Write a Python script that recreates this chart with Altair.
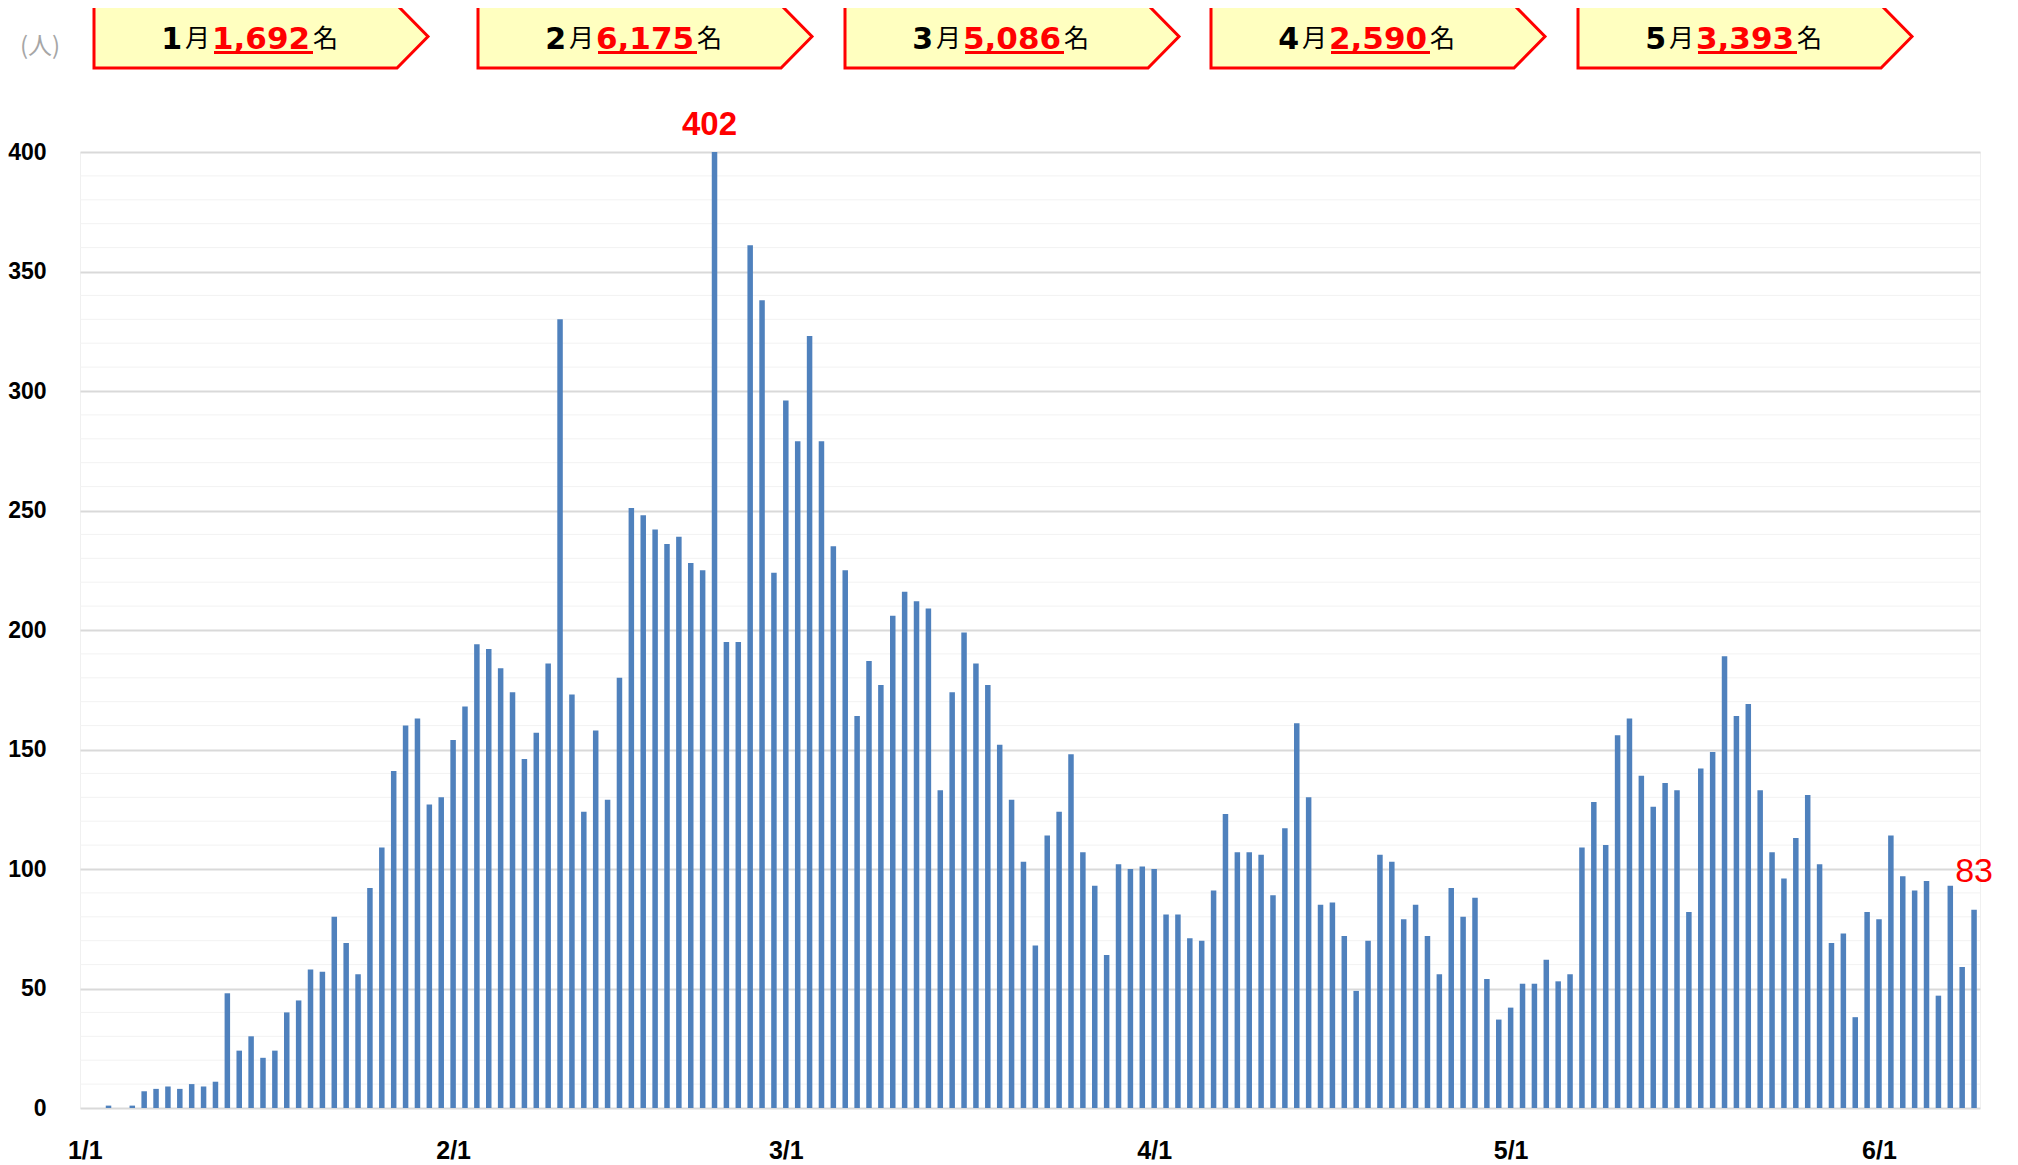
import altair as alt
import pandas as pd

# ---- data (daily new cases, 1/1 .. 6/8) ----
jan = [0, 1, 0, 1, 7, 8, 9, 8, 10, 9, 11, 48, 24, 30, 21, 24, 40, 45, 58, 57,
       80, 69, 56, 92, 109, 141, 160, 163, 127, 130, 154]
feb = [168, 194, 192, 184, 174, 146, 157, 186, 330, 173, 124, 158, 129, 180,
       251, 248, 242, 236, 239, 228, 225, 402, 195, 195, 361, 338, 224, 296]
mar = [279, 323, 279, 235, 225, 164, 187, 177, 206, 216, 212, 209, 133, 174,
       199, 186, 177, 152, 129, 103, 68, 114, 124, 148, 107, 93, 64, 102, 100,
       101, 100]
apr = [81, 81, 71, 70, 91, 123, 107, 107, 106, 89, 117, 161, 130, 85, 86, 72,
       49, 70, 106, 103, 79, 85, 72, 56, 92, 80, 88, 54, 37, 42]
may = [52, 52, 62, 53, 56, 109, 128, 110, 156, 163, 139, 126, 136, 133, 82,
       142, 149, 189, 164, 169, 133, 107, 96, 113, 131, 102, 69, 73, 38, 82, 79]
jun = [114, 97, 91, 95, 47, 93, 59, 83]

tick_index = [-1, 30, 58, 89, 119, 150]
tick_labels = ["1/1", "2/1", "3/1", "4/1", "5/1", "6/1"]

banner_months = ["1", "2", "3", "4", "5"]
banner_totals = ["1,692", "6,175", "5,086", "2,590", "3,393"]
unit_label = "(人)"

cases = jan + feb + mar + apr + may + jun
df = pd.DataFrame({"idx": list(range(len(cases))), "cases": cases})

# ---- layout constants ----
PLOT_W, PLOT_H = 1900, 956
PAD_L, PAD_T = 72, 144
ORG_X, ORG_Y = 8 + PAD_L, 8 + PAD_T   # page position of plot origin

def vx(page_x):
    return page_x - ORG_X

def vy(page_y):
    return page_y - ORG_Y

SANS = "Liberation Sans, Arial, sans-serif"
CJK = "Noto Sans CJK JP, Noto Sans CJK SC, sans-serif"

xs = alt.Scale(domain=[-1.4, 158.5], nice=False, zero=False, padding=0)
ys = alt.Scale(domain=[0, 400], nice=False, clamp=True)

label_expr = "[" + ",".join("'%s'" % t for t in tick_labels) + "][indexof([" + \
    ",".join(str(v) for v in tick_index) + "], datum.value)]"

x_axis = alt.Axis(values=tick_index, labelExpr=label_expr, grid=False, domain=False,
                  ticks=False, tickSize=0, labelPadding=30, labelFontSize=25,
                  labelFont=SANS, labelFontWeight="bold", labelColor="black",
                  labelBaseline="top", labelFlush=False, labelOverlap=False, title=None)
y_axis = alt.Axis(values=list(range(0, 401, 50)), grid=True, gridColor="#d9d9d9",
                  gridWidth=2, domain=False, ticks=False, tickSize=0, labelPadding=34,
                  labelFontSize=23, labelFont=SANS, labelFontWeight="bold",
                  labelColor="black", labelOverlap=False, labelFlush=False, title=None)

minor_vals = [v for v in range(10, 400, 10) if v % 50]
minor = alt.Chart(pd.DataFrame({"v": minor_vals})).mark_rule(
    color="#f2f2f2", strokeWidth=1).encode(y=alt.Y("v:Q", scale=ys, axis=y_axis))

bars = alt.Chart(df).mark_bar(width=5.5, color="#4F81BD").encode(
    x=alt.X("idx:Q", scale=xs, axis=x_axis),
    y=alt.Y("cases:Q", scale=ys, axis=y_axis),
)

peak = df.loc[[df["cases"].idxmax()]]
last = df.iloc[[len(df) - 1]]

peak_lbl = alt.Chart(peak).mark_text(
    dy=-17, dx=-5, baseline="alphabetic", align="center", fontSize=33, fontWeight="bold",
    font=SANS, color="#FF0000").encode(
    x=alt.X("idx:Q", scale=xs), y=alt.Y("cases:Q", scale=ys), text="cases:Q")

last_lbl = alt.Chart(last).mark_text(
    dy=-28, baseline="alphabetic", align="center", fontSize=34,
    font=SANS, color="#FF0000").encode(
    x=alt.X("idx:Q", scale=xs), y=alt.Y("cases:Q", scale=ys), text="cases:Q")

unit = alt.Chart(pd.DataFrame({"t": [unit_label]})).mark_text(
    align="center", baseline="middle", fontSize=24, font=CJK, color="#a6a6a6").encode(
    x=alt.value(vx(40)), y=alt.value(vy(47)), text="t:N")

# ---- banners ----
banner_left = [94, 478, 845, 1211, 1578]
BW = 334          # total width incl. arrow tip
RECT_W = 303
BH = 63
half_w = BW / 2
rx = -1 + 2 * RECT_W / BW
hy = (BH / 2) / half_w
shape_path = "M -1 %.4f L %.4f %.4f L 1 0 L %.4f %.4f L -1 %.4f Z" % (
    -hy, rx, -hy, rx, hy, hy)

banner_layers = []
for left, m, tot in zip(banner_left, banner_months, banner_totals):
    row = pd.DataFrame({"m": [m], "tot": [tot], "tsuki": ["月"], "mei": ["名"]})
    base = alt.Chart(row)
    box = base.mark_point(shape=shape_path, filled=True, fill="#FFFFC0", stroke="#FF0000",
                          strokeWidth=3, opacity=1, fillOpacity=1, size=BW * BW).encode(
        x=alt.value(vx(left + half_w)), y=alt.value(vy(36.5)))
    mtxt = base.mark_text(align="right", baseline="alphabetic", fontSize=30,
                          fontWeight="bold", font="DejaVu Sans", color="black").encode(
        x=alt.value(vx(left + 88)), y=alt.value(vy(49)), text="m:N")
    tsuki = base.mark_text(align="left", baseline="alphabetic", fontSize=25,
                           font=CJK, color="black").encode(
        x=alt.value(vx(left + 91)), y=alt.value(vy(47)), text="tsuki:N")
    num = base.mark_text(align="left", baseline="alphabetic", fontSize=31,
                         fontWeight="bold", font="DejaVu Sans", color="#FF0000").encode(
        x=alt.value(vx(left + 118)), y=alt.value(vy(49)), text="tot:N")
    ul = base.mark_rule(color="#FF0000", strokeWidth=3).encode(
        x=alt.value(vx(left + 120)), x2=alt.value(vx(left + 219)),
        y=alt.value(vy(52.5)))
    mei = base.mark_text(align="left", baseline="alphabetic", fontSize=25,
                         font=CJK, color="black").encode(
        x=alt.value(vx(left + 219)), y=alt.value(vy(47)), text="mei:N")
    banner_layers += [box, mtxt, tsuki, num, ul, mei]

chart = alt.layer(minor, bars, peak_lbl, last_lbl, unit, *banner_layers).properties(
    width=PLOT_W, height=PLOT_H,
    autosize=alt.AutoSizeParams(type="none"),
    padding={"left": PAD_L, "top": PAD_T, "right": 30, "bottom": 57},
    background="white",
).configure_view(stroke="#f0f0f0")

chart.save("out.html", embed_options={"renderer": "svg", "actions": False})
